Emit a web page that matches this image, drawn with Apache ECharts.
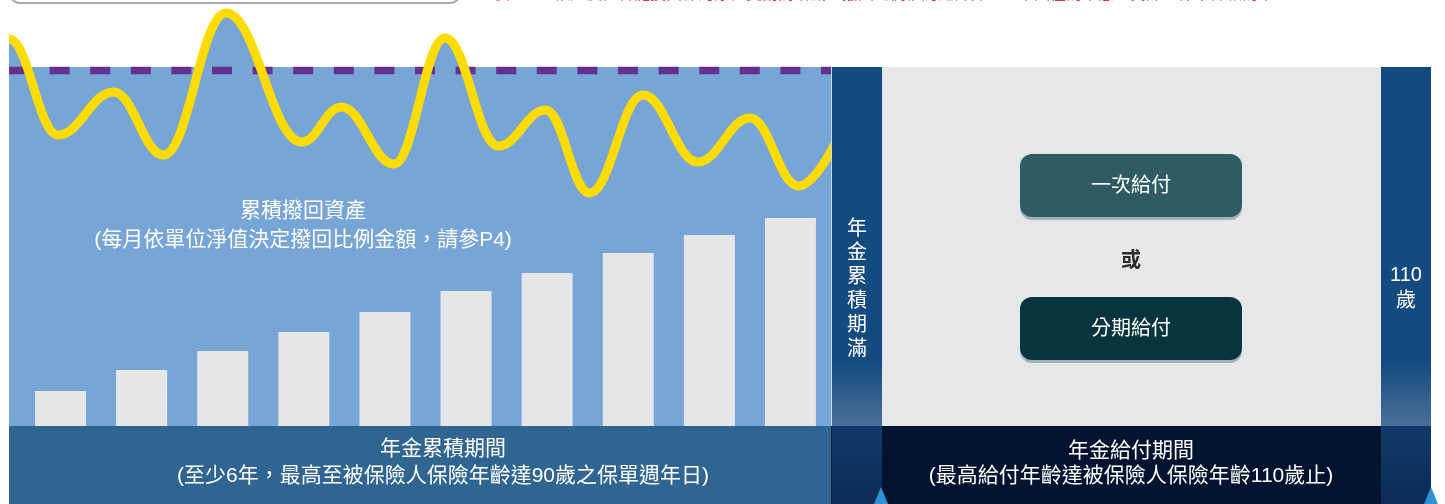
<!DOCTYPE html>
<html><head><meta charset="utf-8">
<script src="https://cdn.jsdelivr.net/npm/echarts@6/dist/echarts.min.js"></script>
<style>html,body{margin:0;padding:0;background:#fff}#c{width:1445px;height:504px}</style>
</head><body><div id="c"></div>
<script>
// ---- data ----
const waveX = [-8, 0, 49, 104.6, 154.5, 217, 292.8, 332.4, 385, 436, 489.5, 536.6, 580.6, 634, 689, 741, 789.6, 850];
const waveY = [398, 387, 291, 334, 271, 413, 284, 319, 262, 388, 280, 316, 233, 331, 264, 308, 240, 335];
const barCategories = ['1','2','3','4','5','6','7','8','9','10'];
const barValues = [35, 56, 75, 94, 114, 135, 153, 173, 191, 208];
const thresholdLevel = 355.5;
const panelTop = 359;
const noteText = '◎註：　帳戶價值會隨投資標的淨值變動而增減，撥回比例依約定計算，　本圖僅為示意，實際以保單條款為準';
const accLabel = ['累積撥回資產', '(每月依單位淨值決定撥回比例金額，請參P4)'];
const accPeriod = ['年金累積期間', '(至少6年，最高至被保險人保險年齡達90歲之保單週年日)'];
const payPeriod = ['年金給付期間', '(最高給付年齡達被保險人保險年齡110歲止)'];
const maturity = '年金累積期滿';
const endAge = ['110', '歲'];
const options = ['一次給付', '或', '分期給付'];

const FONT = "'Liberation Sans','Noto Sans CJK TC','Noto Sans',sans-serif";
const chart = echarts.init(document.getElementById('c'), null, {renderer: 'canvas'});
const wave = waveX.map((x, i) => [x, waveY[i]]);
const darkBar = {type: 'linear', x: 0, y: 0, x2: 0, y2: 1, colorStops: [
  {offset: 0, color: '#134a7f'}, {offset: 0.82, color: '#134a7f'}, {offset: 1, color: '#4b7099'}]};
const darkFoot = {type: 'linear', x: 0, y: 0, x2: 0, y2: 1, colorStops: [
  {offset: 0, color: '#113b6b'}, {offset: 1, color: '#0c2b56'}]};

function txt(x, y, text, size, color, extra) {
  return Object.assign({type: 'text', x, y, z: 100, style: Object.assign({
    text, fill: color, font: `${size}px ${FONT}`, textAlign: 'center', textVerticalAlign: 'middle'}, extra || {})});
}

chart.setOption({
  animation: false,
  grid: [
    {left: 9, width: 822, top: 0, height: 426},
    {left: 20, width: 811, top: 0, height: 426}
  ],
  xAxis: [
    {type: 'value', gridIndex: 0, min: 0, max: 822, show: false},
    {type: 'category', gridIndex: 1, data: barCategories, show: false}
  ],
  yAxis: [
    {type: 'value', gridIndex: 0, min: 0, max: 426, show: false},
    {type: 'value', gridIndex: 1, min: 0, max: 426, show: false}
  ],
  series: [
    {type: 'line', xAxisIndex: 0, yAxisIndex: 0, data: wave, smooth: 0.4, smoothMonotone: 'x',
     symbol: 'none', z: 1, lineStyle: {width: 0, opacity: 0}, areaStyle: {color: '#76a5d6', opacity: 1},
     markArea: {silent: true, itemStyle: {color: '#76a5d6'}, data: [[{yAxis: 0}, {yAxis: panelTop}]]}},
    {type: 'bar', xAxisIndex: 1, yAxisIndex: 1, data: barValues, barWidth: 51, z: 2,
     itemStyle: {color: '#e5e6e8'}},
    {type: 'line', xAxisIndex: 0, yAxisIndex: 0, data: [[0, thresholdLevel], [822, thresholdLevel]],
     symbol: 'none', z: 2, lineStyle: {color: '#65318f', width: 7.5, type: [20, 20.6], cap: 'butt'}},
    {type: 'line', xAxisIndex: 0, yAxisIndex: 0, data: wave, smooth: 0.4, smoothMonotone: 'x',
     symbol: 'none', z: 3, lineStyle: {color: '#ffdc00', width: 9}}
  ],
  graphic: [
    {type: 'rect', shape: {x: 10, y: -40, width: 450, height: 43, r: 10}, style: {fill: '#fff', stroke: '#a9a9ad', lineWidth: 2}},
    txt(490, 3, noteText, 16, '#e8303a', {textAlign: 'left', textVerticalAlign: 'bottom'}),
    {type: 'rect', shape: {x: 0, y: 4, width: 9, height: 500}, style: {fill: '#ffffff'}, z: 50},
    {type: 'rect', shape: {x: 831, y: 4, width: 30, height: 63}, style: {fill: '#ffffff'}, z: 50},
    {type: 'rect', shape: {x: 831, y: 67, width: 1, height: 359}, style: {fill: '#c9dcef'}, z: 50},
    {type: 'rect', shape: {x: 832, y: 67, width: 50, height: 359}, style: {fill: darkBar}, z: 50},
    {type: 'rect', shape: {x: 882, y: 67, width: 499, height: 359}, style: {fill: '#e6e7e9'}},
    {type: 'rect', shape: {x: 1381, y: 67, width: 50, height: 359}, style: {fill: darkBar}},
    {type: 'rect', shape: {x: 9, y: 426, width: 822, height: 78}, style: {fill: '#2f6590'}},
    {type: 'rect', shape: {x: 831, y: 426, width: 1, height: 78}, style: {fill: '#0b2440'}},
    {type: 'rect', shape: {x: 832, y: 426, width: 50, height: 78}, style: {fill: darkFoot}},
    {type: 'rect', shape: {x: 882, y: 426, width: 499, height: 78}, style: {fill: '#041330'}},
    {type: 'rect', shape: {x: 1381, y: 426, width: 50, height: 78}, style: {fill: darkFoot}},
    {type: 'polygon', shape: {points: [[874, 504], [881, 487], [888, 504]]}, style: {fill: '#2e93d6'}, z: 60},
    {type: 'polygon', shape: {points: [[1424, 504], [1431, 487], [1438, 504]]}, style: {fill: '#2e93d6'}, z: 60},
    {type: 'rect', shape: {x: 1020, y: 154, width: 222, height: 63, r: 12}, z: 20,
     style: {fill: '#2f5c63', shadowColor: '#a3b2b7', shadowOffsetY: 3, shadowBlur: 0}},
    {type: 'rect', shape: {x: 1020, y: 297, width: 222, height: 63, r: 12}, z: 20,
     style: {fill: '#083440', shadowColor: '#a3b2b7', shadowOffsetY: 3, shadowBlur: 0}},
    txt(1131, 186, options[0], 20, '#ffffff'),
    txt(1131, 261, options[1], 20, '#2b2b2b', {font: `bold 20px ${FONT}`}),
    txt(1131, 329, options[2], 20, '#ffffff'),
    txt(303, 211, accLabel[0], 21, '#ffffff'),
    txt(303, 240, accLabel[1], 21, '#ffffff'),
    txt(443, 449, accPeriod[0], 21, '#ffffff'),
    txt(443, 476, accPeriod[1], 21, '#ffffff'),
    txt(1131, 451, payPeriod[0], 21, '#ffffff'),
    txt(1131, 476, payPeriod[1], 21, '#ffffff'),
    txt(857, 289, maturity.split('').join('\n'), 20, '#ffffff', {lineHeight: 24}),
    txt(1406, 288, endAge.join('\n'), 20, '#ffffff', {lineHeight: 26})
  ]
});
</script></body></html>
